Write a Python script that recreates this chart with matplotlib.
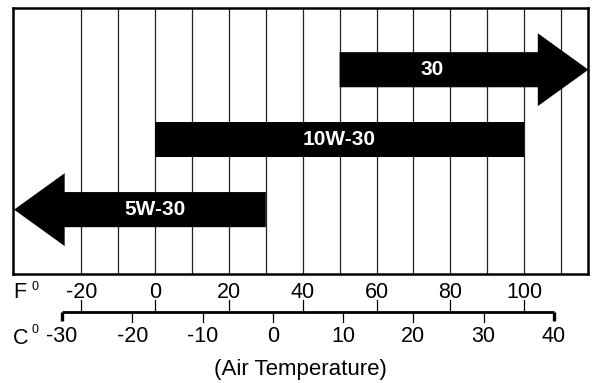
import matplotlib
matplotlib.use("Agg")
import matplotlib.pyplot as plt
from matplotlib.patches import Polygon
import numpy as np

plt.rcParams['font.family'] = ['Liberation Sans', 'DejaVu Sans']

# ---- data ----
oils = ["30", "10W-30", "5W-30"]
low_f = [50, 0, -30]          # nominal lower temperature (F)
high_f = [100, 100, 30]       # nominal upper temperature (F)
open_low = [False, False, True]
open_high = [True, False, False]
f_ticks = [-20, 0, 20, 40, 60, 80, 100]
c_ticks = [-30, -20, -10, 0, 10, 20, 30, 40]
grid_f = list(range(-20, 111, 10))

# ---- layout ----
W, H = 592, 383
def fx(px): return px / W
def fy(py): return 1 - py / H

XMIN, XMAX = -38.5, 117.3
HEAD = 13.7
fig = plt.figure(figsize=(W / 100, H / 100), dpi=100)
ax = fig.add_axes([fx(13), fy(274), (588 - 13) / W, (274 - 8) / H])
ax.set_xlim(XMIN, XMAX)
ax.set_ylim(0, 1)
ax.set_xticks([]); ax.set_yticks([])
for s in ax.spines.values():
    s.set_linewidth(1.8)
    s.set_zorder(5)

for g in grid_f:
    ax.axvline(g, color='#222222', lw=0.9, zorder=1)

bar_h = 0.066
head_h = 0.137
for i, name in enumerate(oils):
    yc = 0.768 - i * 0.263
    lo, hi = low_f[i], high_f[i]
    if open_low[i]:
        tip = XMIN + 0.3
        base = tip + HEAD
        left = [(tip, yc), (base, yc + head_h), (base, yc + bar_h)]
        left_bot = [(base, yc - bar_h), (base, yc - head_h)]
    else:
        base = lo
        left = [(base, yc + bar_h)]
        left_bot = [(base, yc - bar_h)]
    if open_high[i]:
        tip = XMAX + 0.1
        rbase = tip - HEAD
        right = [(rbase, yc + bar_h), (rbase, yc + head_h), (tip, yc),
                 (rbase, yc - head_h), (rbase, yc - bar_h)]
    else:
        right = [(hi, yc + bar_h), (hi, yc - bar_h)]
    pts = left + right + left_bot
    ax.add_patch(Polygon(pts, closed=True, facecolor='black', edgecolor='none',
                         zorder=3, clip_on=False))
    ax.text((lo + hi) / 2, yc, name, color='white', fontsize=15, weight='bold',
            ha='center', va='center', zorder=4)

# ---- bottom scales ----
ax_b = fig.add_axes([fx(13), 0, (588 - 13) / W, fy(274)])
ax_b.set_xlim(XMIN, XMAX)
ax_b.set_ylim(383, 274)
ax_b.axis('off')
for f in f_ticks:
    ax_b.text(f, 292, str(f), ha='center', va='center', fontsize=15.5)
    ax_b.plot([f, f], [300, 312], color='black', lw=0.9)

ax_c = ax_b.twiny()
ax_c.set_xlim(-36.97, 44.84)
ax_c.set_ylim(383, 274)
ax_c.axis('off')
ax_c.plot([c_ticks[0], c_ticks[-1]], [312.3, 312.3], color='black', lw=2.0,
          solid_capstyle='butt')
for c in c_ticks:
    if c in (c_ticks[0], c_ticks[-1]):
        ax_c.plot([c, c], [311.5, 321], color='black', lw=2.4, solid_capstyle='butt')
    else:
        ax_c.plot([c, c], [312, 322], color='black', lw=0.9)
    ax_c.text(c, 337, str(c), ha='center', va='center', fontsize=15.5)

fig.text(fx(13), fy(292), "F", ha='left', va='center', fontsize=15.5)
fig.text(fx(31), fy(287), "0", ha='left', va='center', fontsize=9)
fig.text(fx(13), fy(338), "C", ha='left', va='center', fontsize=15.5)
fig.text(fx(31), fy(330), "0", ha='left', va='center', fontsize=9)
fig.text(fx(300), fy(370), "(Air Temperature)", ha='center', va='center', fontsize=16)

fig.savefig("out.png", dpi=100)
